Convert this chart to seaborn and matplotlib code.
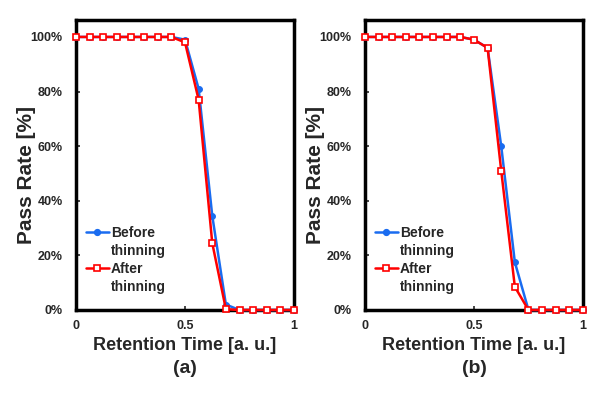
import numpy as np
import pandas as pd
import matplotlib
matplotlib.use("Agg")
import matplotlib.pyplot as plt
import seaborn as sns
from matplotlib.lines import Line2D
from matplotlib.ticker import FuncFormatter

sns.set_style("white")
plt.rcParams['font.family'] = ['Liberation Sans', 'DejaVu Sans']
plt.rcParams['font.weight'] = 'bold'

# Retention time sampled at 17 points (a. u.)
retention = [i / 16 for i in range(17)]

# Panel (a) pass rate [%]
a_before = [100, 100, 100, 100, 100, 100, 100, 100, 99, 81, 34.5, 2, 0, 0, 0, 0, 0]
a_after = [100, 100, 100, 100, 100, 100, 100, 100, 98, 77, 24.5, 0.3, 0, 0, 0, 0, 0]

# Panel (b) pass rate [%]
b_before = [100, 100, 100, 100, 100, 100, 100, 100, 99, 96, 60, 17.5, 0, 0, 0, 0, 0]
b_after = [100, 100, 100, 100, 100, 100, 100, 100, 99, 96, 51, 8.5, 0, 0, 0, 0, 0]

panel_labels = ['(a)', '(b)']
series_names = ['Before', 'After']

blue = '#1a6cf0'
red = '#ff0000'

fig = plt.figure(figsize=(6, 3.94), dpi=100)
ax_a = fig.add_axes([0.1267, 0.2132, 0.3633, 0.736])
ax_b = fig.add_axes([0.6083, 0.2132, 0.3633, 0.736])

for ax, before, after, lab in [(ax_a, a_before, a_after, panel_labels[0]),
                               (ax_b, b_before, b_after, panel_labels[1])]:
    sns.lineplot(x=retention, y=before, ax=ax, color=blue, lw=1.8,
                 marker='o', markersize=4.2, markeredgecolor=blue,
                 markerfacecolor=blue, clip_on=False, zorder=3)
    sns.lineplot(x=retention, y=after, ax=ax, color=red, lw=1.8,
                 marker='s', markersize=5, markeredgecolor=red, markeredgewidth=1.2,
                 markerfacecolor='white', clip_on=False, zorder=4)
    ax.set_xlim(0, 1)
    ax.set_ylim(0, 106.2)
    ax.set_xticks([0, 0.5, 1])
    ax.set_xticklabels(['0', '0.5', '1'])
    ax.set_yticks([0, 20, 40, 60, 80, 100])
    ax.yaxis.set_major_formatter(FuncFormatter(lambda v, p: f'{int(v)}%'))
    for s in ax.spines.values():
        s.set_linewidth(2.5)
        s.set_color('black')
    ax.tick_params(direction='in', length=3, width=1.2, labelsize=9,
                   left=True, bottom=True)
    ax.tick_params(axis='x', pad=7.5)
    ax.tick_params(axis='y', pad=9.5)
    for t in ax.get_xticklabels() + ax.get_yticklabels():
        t.set_fontweight('bold')
    ax.set_xlabel('Retention Time [a. u.]', fontsize=13, fontweight='bold', labelpad=3)
    ax.set_ylabel('Pass Rate [%]', fontsize=15, fontweight='bold')
    ax.yaxis.set_label_coords(-0.183, 0.464)
    ax.text(0.5, -0.203, lab, transform=ax.transAxes, ha='center', va='center',
            fontsize=14, fontweight='bold')

    # legend: handle sits beside the first line of each label
    h_before = Line2D([], [], color=blue, lw=1.8, marker='o', markersize=4.2,
                      markerfacecolor=blue, markeredgecolor=blue)
    h_after = Line2D([], [], color=red, lw=1.8, marker='s', markersize=5,
                     markerfacecolor='white', markeredgecolor=red, markeredgewidth=1.2)
    h_blank = Line2D([], [], color='none')
    ax.legend([h_before, h_blank, h_after, h_blank],
              [series_names[0], 'thinning', series_names[1], 'thinning'],
              loc='lower left', bbox_to_anchor=(0.0, 0.021), frameon=False,
              prop={'weight': 'bold', 'size': 10}, handlelength=1.65,
              handletextpad=0.15, labelspacing=0.3, borderaxespad=0.3)

fig.savefig('out.png', dpi=100)
